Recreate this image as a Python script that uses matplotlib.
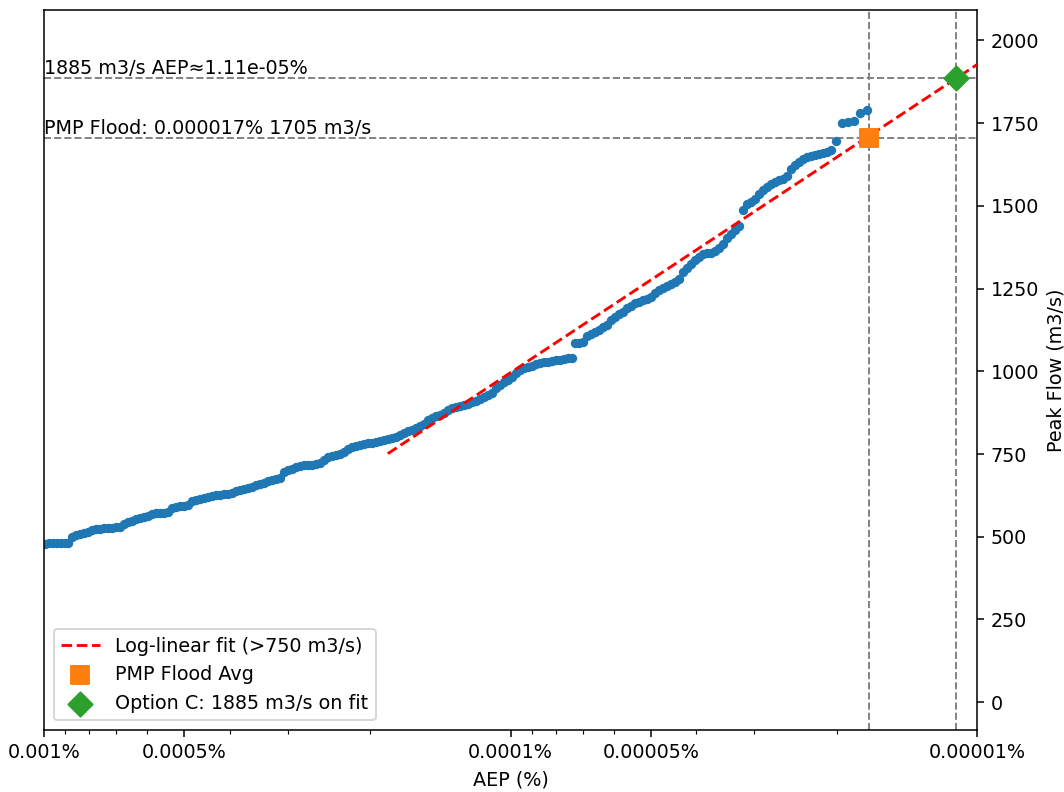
import numpy as np
import matplotlib
matplotlib.use("Agg")
import matplotlib.pyplot as plt
from matplotlib.ticker import FixedLocator, FixedFormatter, LogLocator, NullFormatter

# ---------------- data ----------------
# log10 of AEP (%) for each simulated event, and its peak flow (m3/s)
log_aep = [
    -3.002, -3.011, -3.019, -3.028, -3.036, -3.045, -3.051,
    -3.060, -3.069, -3.077, -3.086, -3.094, -3.103, -3.111, -3.120, -3.129, -3.137, -3.146, -3.154, -3.163,
    -3.171, -3.180, -3.189, -3.197, -3.206, -3.214, -3.223, -3.232, -3.240, -3.249, -3.257, -3.266,
    -3.274, -3.283, -3.292, -3.300, -3.309,
    -3.317, -3.326, -3.334, -3.343, -3.352, -3.360, -3.369, -3.377, -3.386, -3.394, -3.403,
    -3.412, -3.420, -3.429, -3.437, -3.446, -3.454, -3.463, -3.472, -3.480, -3.489, -3.497, -3.506,
    -3.514, -3.523, -3.532, -3.540, -3.549, -3.557, -3.566, -3.574, -3.583, -3.592,
    -3.600, -3.609, -3.617, -3.626, -3.635, -3.643, -3.652, -3.660, -3.669, -3.677, -3.686, -3.695,
    -3.703, -3.712, -3.720, -3.729, -3.737, -3.746, -3.755, -3.763, -3.772, -3.780, -3.789, -3.797,
    -3.806, -3.815, -3.823, -3.832, -3.840, -3.849, -3.857, -3.866, -3.875, -3.883, -3.892, -3.900,
    -3.909, -3.917, -3.926, -3.935, -3.943, -3.952, -3.960, -3.969, -3.977, -3.986, -3.995, -4.003,
    -4.012, -4.020, -4.029, -4.038, -4.046, -4.055, -4.063, -4.072, -4.080, -4.089, -4.098, -4.106,
    -4.115, -4.123, -4.132,
    -4.138, -4.147, -4.155, -4.164, -4.173, -4.181, -4.190, -4.198, -4.207, -4.215, -4.224, -4.233,
    -4.241, -4.250, -4.258, -4.267, -4.275, -4.284, -4.293, -4.301, -4.310, -4.318, -4.327, -4.335,
    -4.344, -4.353, -4.361, -4.370, -4.378, -4.387, -4.395, -4.404, -4.413, -4.421, -4.430, -4.438,
    -4.447, -4.456, -4.464, -4.473, -4.481, -4.490,
    -4.498, -4.507, -4.516, -4.524, -4.533, -4.541, -4.550, -4.558, -4.567, -4.576, -4.584, -4.593,
    -4.601, -4.610, -4.618, -4.627, -4.636, -4.644, -4.653, -4.661, -4.670, -4.678, -4.687,
    -4.698, -4.711, -4.723, -4.736, -4.749, -4.764,
]
peak_flow = [
    479, 480, 481, 481, 481, 482, 482,
    500, 505, 509, 512, 515, 519, 522, 524, 526, 527, 528, 529, 531,
    538, 545, 549, 553, 556, 560, 564, 569, 573, 572, 571, 575,
    586, 591, 592, 594, 596,
    608, 612, 614, 616, 619, 622, 625, 627, 629, 630, 631,
    638, 641, 644, 646, 650, 655, 660, 664, 668, 671, 674, 677,
    697, 702, 706, 710, 713, 717, 717, 717, 719, 722,
    733, 740, 744, 747, 750, 755, 764, 771, 775, 778, 780, 782,
    784, 787, 789, 791, 794, 797, 803, 808, 814, 819, 824, 829,
    836, 842, 852, 860, 864, 868, 875, 882, 888, 892, 896, 899,
    902, 906, 911, 916, 922, 928, 936, 950, 960, 967, 975, 984,
    994, 1004, 1009, 1013, 1017, 1021, 1025, 1027, 1029, 1031, 1033, 1035,
    1037, 1039, 1040,
    1085, 1087, 1090, 1108, 1114, 1119, 1124, 1133, 1141, 1155, 1163, 1173,
    1180, 1190, 1198, 1205, 1210, 1215, 1220, 1226, 1236, 1245, 1252, 1257,
    1263, 1270, 1280, 1300, 1313, 1325, 1337, 1347, 1355, 1357, 1358, 1363,
    1372, 1385, 1403, 1416, 1428, 1438,
    1488, 1505, 1512, 1520, 1536, 1548, 1558, 1566, 1572, 1577, 1581, 1590,
    1610, 1624, 1634, 1642, 1648, 1651, 1654, 1657, 1660, 1662, 1668,
    1695, 1751, 1753, 1756, 1781, 1789,
]

# log-linear fit: flow = intercept + slope * log10(AEP%)
fit_slope = -931.0
fit_intercept = -2728.0
fit_log_range = [-3.737, -5.0]

pmp_aep, pmp_flow = 1.7e-5, 1705
optc_aep, optc_flow = 1.11e-5, 1885

xtick_vals = [1e-3, 5e-4, 1e-4, 5e-5, 1e-5]
xtick_labels = ["0.001%", "0.0005%", "0.0001%", "0.00005%", "0.00001%"]
ytick_vals = [0, 250, 500, 750, 1000, 1250, 1500, 1750, 2000]

# ---------------- figure ----------------
DPI = 138
fig = plt.figure(figsize=(1064 / DPI, 792 / DPI), dpi=DPI)
ax = fig.add_axes([44 / 1064, 1 - 730 / 792, (977 - 44) / 1064, (730 - 10) / 792])

aep = 10 ** np.array(log_aep)
ax.scatter(aep, peak_flow, s=15, color="#1f77b4", zorder=2)

fit_x = 10 ** np.array(fit_log_range)
fit_y = fit_intercept + fit_slope * np.log10(fit_x)
ax.plot(fit_x, fit_y, "r--", lw=1.5, label="Log-linear fit (>750 m3/s)", zorder=3)

for xv in (pmp_aep, optc_aep):
    ax.axvline(xv, color="gray", ls="--", lw=1, zorder=1)
for yv in (pmp_flow, optc_flow):
    ax.axhline(yv, color="gray", ls="--", lw=1, zorder=1)

ax.scatter([pmp_aep], [pmp_flow], marker="s", s=80, color="#ff7f0e",
           label="PMP Flood Avg", zorder=5)
ax.scatter([optc_aep], [optc_flow], marker="D", s=80, color="#2ca02c",
           label=f"Option C: {optc_flow} m3/s on fit", zorder=5)

ax.text(1e-3, optc_flow, f"{optc_flow} m3/s AEP\u2248{optc_aep:.2e}%",
        ha="left", va="bottom", fontsize=10)
ax.text(1e-3, pmp_flow, f"PMP Flood: {pmp_aep:.6f}% {pmp_flow} m3/s",
        ha="left", va="bottom", fontsize=10)

ax.set_xscale("log")
ax.set_xlim(1e-3, 1e-5)
ax.set_ylim(-84, 2092)
ax.xaxis.set_major_locator(FixedLocator(xtick_vals))
ax.xaxis.set_major_formatter(FixedFormatter(xtick_labels))
ax.xaxis.set_minor_locator(LogLocator(base=10, subs=(2, 3, 4, 6, 7, 8, 9)))
ax.xaxis.set_minor_formatter(NullFormatter())

ax.yaxis.tick_right()
ax.yaxis.set_label_position("right")
ax.set_yticks(ytick_vals)

ax.set_xlabel("AEP (%)")
ax.set_ylabel("Peak Flow (m3/s)")
ax.legend(loc="lower left")

fig.savefig("out.png", dpi=DPI)
